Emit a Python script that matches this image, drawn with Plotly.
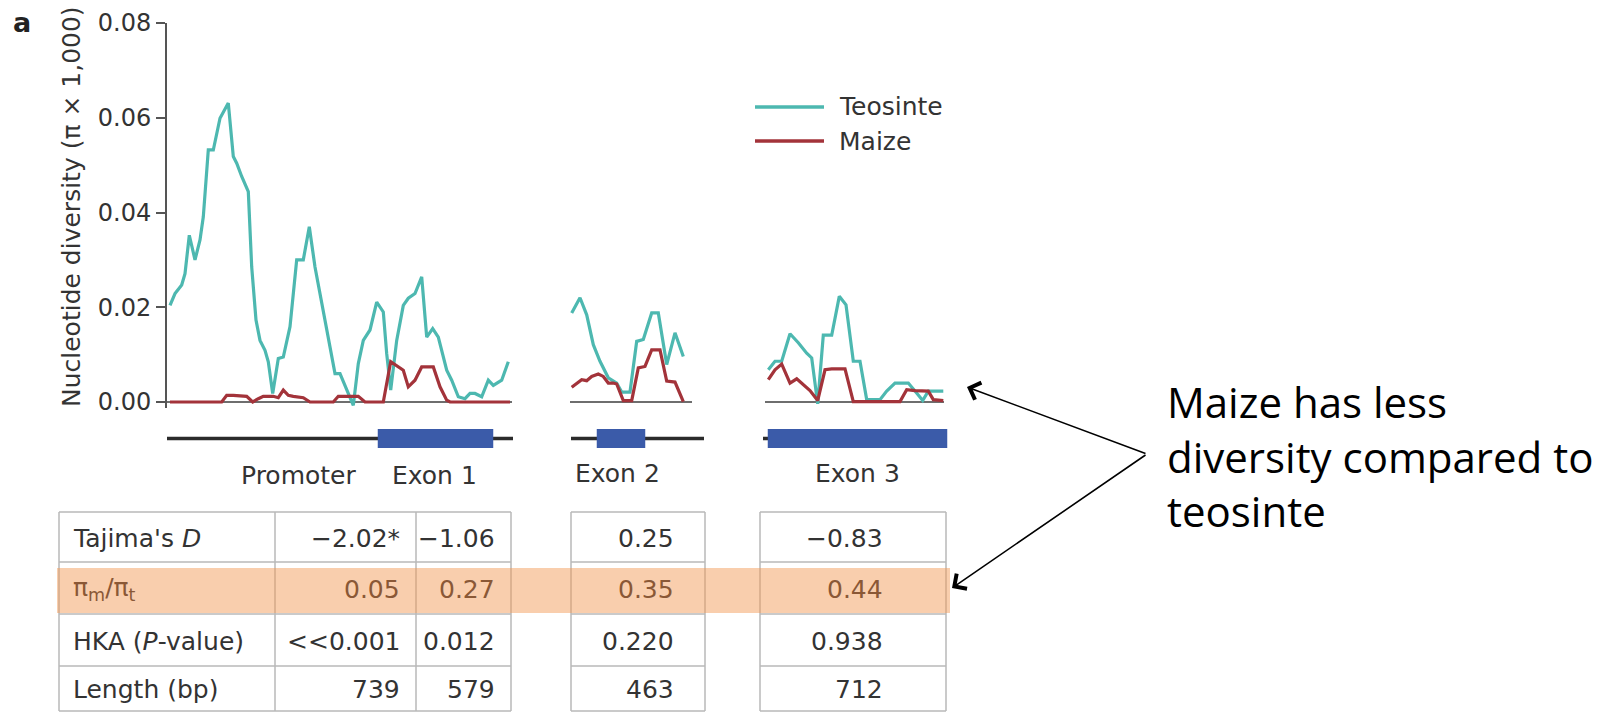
import plotly.graph_objects as go

# ---------------- data ----------------
teo_seg1_x = [3, 8, 14.7, 18, 22.3, 28, 33, 36.3, 41.3, 46.3, 53, 61.3, 66.3, 69.7, 74.7, 81.3, 84.7, 89, 93, 98,
              101.3, 105.7, 111.3, 116.3, 123, 129.7, 136.3, 142.3, 148, 153, 158, 163, 168, 173, 179.7, 186.3,
              191.3, 196.3, 203, 209.7, 216.3, 219.7, 223.7, 229.7, 236.3, 241.3, 248, 254.7, 259.7, 265.7,
              271.3, 279.7, 284.7, 291.3, 298, 303, 308, 314.7, 321.3, 326.3, 334.7, 341.3]
teo_seg1_y = [0.0204, 0.0229, 0.0247, 0.0271, 0.0352, 0.0300, 0.0342, 0.0391, 0.0532, 0.0532, 0.0599, 0.0631,
              0.0518, 0.0504, 0.0476, 0.0444, 0.0285, 0.0173, 0.0130, 0.0109, 0.0085, 0.0018, 0.0092, 0.0095,
              0.0159, 0.0300, 0.0300, 0.0370, 0.0285, 0.0229, 0.0173, 0.0116, 0.0060, 0.0060, 0.0025, -0.0007,
              0.0081, 0.0130, 0.0152, 0.0211, 0.0190, 0.0102, 0.0025, 0.0130, 0.0204, 0.0219, 0.0229, 0.0264,
              0.0137, 0.0155, 0.0137, 0.0067, 0.0046, 0.0011, 0.0007, 0.0018, 0.0018, 0.0011, 0.0046, 0.0035,
              0.0046, 0.0085]
maize_seg1_x = [3, 54.7, 59.7, 66.3, 79.7, 85.7, 91.3, 96.3, 106.3, 111.3, 116.3, 121.3, 126.3, 136.3, 143,
                166.3, 171.3, 191.3, 198, 216.3, 223.7, 231.3, 236.3, 241.3, 248, 254.7, 266.3, 273, 279.7, 283, 343]
maize_seg1_y = [0, 0, 0.0014, 0.0014, 0.0012, 0, 0.0007, 0.0012, 0.0012, 0.0009, 0.0025, 0.0014, 0.0012, 0.0009,
                0, 0, 0.0012, 0.0012, 0, 0, 0.0085, 0.0074, 0.0067, 0.0032, 0.0046, 0.0074, 0.0074, 0.0032,
                0.0004, 0, 0]

teo_seg2_x = [404.7, 413, 419.7, 426.3, 433, 441.3, 449.7, 454.7, 463, 469.7, 476.3, 484.7, 491.3, 499.7, 508, 516.3]
teo_seg2_y = [0.0188, 0.0220, 0.0184, 0.0121, 0.0086, 0.0051, 0.0040, 0.0021, 0.0021, 0.0128, 0.0132, 0.0188,
              0.0188, 0.0079, 0.0146, 0.0096]
maize_seg2_x = [404.7, 409.7, 414.7, 419.7, 424.7, 431.3, 436.3, 441.3, 446.3, 449.7, 456.3, 464.7, 471.3, 478,
                484.7, 493, 499.7, 508, 516.3]
maize_seg2_y = [0.0031, 0.0040, 0.0047, 0.0045, 0.0054, 0.0059, 0.0054, 0.0040, 0.0040, 0.0038, 0.0003, 0.0003,
                0.0072, 0.0075, 0.0110, 0.0110, 0.0044, 0.0042, 0.0001]

teo_seg3_x = [601.3, 608, 614.7, 623, 631.3, 639.7, 644.7, 650.7, 656.3, 664.7, 672.3, 679, 686.3, 693, 699.7,
              706.3, 713, 719.7, 728, 734.7, 741.3, 748, 755.7, 761.3, 769.7, 776.3]
teo_seg3_y = [0.0068, 0.0086, 0.0086, 0.0144, 0.0125, 0.0103, 0.0093, -0.0004, 0.0141, 0.0141, 0.0223, 0.0205,
              0.0086, 0.0086, 0.0005, 0.0005, 0.0005, 0.0023, 0.0040, 0.0040, 0.0040, 0.0023, 0.0003, 0.0023,
              0.0023, 0.0023]
maize_seg3_x = [601.3, 608, 614.7, 623, 629.7, 636.3, 643, 650.7, 658, 664.7, 678, 686.3, 733, 739.7, 748,
                761.3, 766.3, 776.3]
maize_seg3_y = [0.0047, 0.0068, 0.0080, 0.0040, 0.0049, 0.0037, 0.0024, 0.0003, 0.0068, 0.0070, 0.0070, 0.0001,
                0.0001, 0.0026, 0.0024, 0.0023, 0.0005, 0.0003]

# gene structure: (start, end) of each segment's backbone and exon box
segment_spans = [(0, 345), (403, 525), (598, 777)]
gene_lines = [(0, 346), (404, 537), (596, 780)]
exon_boxes = [(211, 326), (430, 478), (601, 780)]
region_labels = ["Promoter", "Exon 1", "Exon 2", "Exon 3"]

# table
row_labels = ["Tajima's <i>D</i>", "π<sub>m</sub>/π<sub>t</sub>", "HKA (<i>P</i>-value)", "Length (bp)"]
promoter_vals = ["−2.02*", "0.05", "&lt;&lt;0.001", "739"]
exon1_vals = ["−1.06", "0.27", "0.012", "579"]
exon2_vals = ["0.25", "0.35", "0.220", "463"]
exon3_vals = ["−0.83", "0.44", "0.938", "712"]

y_ticks = [0.0, 0.02, 0.04, 0.06, 0.08]

TEAL = "#4db8b0"
RED = "#a3333a"
BLUE = "#3b5ba9"
TXT = "#333333"
FONT = "DejaVu Sans"

# ---------------- layout helpers (pixels -> paper) ----------------
W, H = 1608, 713
L, R_EDGE = 167, 957
T = 23
PW = R_EDGE - L
PH = H - T
def px(x):
    return (x - L) / PW
def py(y):
    return (H - y) / PH

Y0_PX = 402.0
Y_TOP_PX = 23.0
px_per_unit = (Y0_PX - Y_TOP_PX) / 0.08
YMIN = -0.0012
y_bottom_px = Y0_PX - YMIN * px_per_unit

fig = go.Figure()

def seg_join(xs_list, ys_list):
    X, Y = [], []
    for xs, ys in zip(xs_list, ys_list):
        X += list(xs) + [None]
        Y += list(ys) + [None]
    return X, Y

tx, ty = seg_join([teo_seg1_x, teo_seg2_x, teo_seg3_x], [teo_seg1_y, teo_seg2_y, teo_seg3_y])
mx, my = seg_join([maize_seg1_x, maize_seg2_x, maize_seg3_x], [maize_seg1_y, maize_seg2_y, maize_seg3_y])

# zero baselines for each segment
bx, by = seg_join([[a, b] for a, b in segment_spans], [[0, 0]] * len(segment_spans))
fig.add_trace(go.Scatter(x=bx, y=by, mode="lines", line=dict(color="#6e6e6e", width=2),
                         hoverinfo="skip", showlegend=False))
fig.add_trace(go.Scatter(x=tx, y=ty, mode="lines", name="Teosinte",
                         line=dict(color=TEAL, width=3.2), showlegend=False))
fig.add_trace(go.Scatter(x=mx, y=my, mode="lines", name="Maize",
                         line=dict(color=RED, width=3.2), showlegend=False))

# gene structure on a second y axis
gx, gy = seg_join([[a, b] for a, b in gene_lines], [[0, 0]] * len(gene_lines))
fig.add_trace(go.Scatter(x=gx, y=gy, mode="lines", line=dict(color="#2b2b2b", width=3.5),
                         xaxis="x", yaxis="y2", hoverinfo="skip", showlegend=False))
for a, b in exon_boxes:
    fig.add_trace(go.Scatter(x=[a, b, b, a, a], y=[-1, -1, 1, 1, -1], mode="lines", fill="toself",
                             fillcolor=BLUE, line=dict(color=BLUE, width=0.5),
                             xaxis="x", yaxis="y2", hoverinfo="skip", showlegend=False))

shapes = []
annotations = []

def ann(x, y, text, size=25, xanchor="center", yanchor="middle", color=TXT, family=FONT, **kw):
    annotations.append(dict(x=px(x), y=py(y), xref="paper", yref="paper", text=text, showarrow=False,
                            xanchor=xanchor, yanchor=yanchor, font=dict(family=family, size=size, color=color),
                            **kw))

# panel letter and y title
ann(22, 22, "<b>a</b>", size=27, color="#222222")
ann(71, 207, "Nucleotide diversity (π × 1,000)", size=25, textangle=-90)

# legend (manual, long line samples as in the original)
for yy, col, name in [(107, TEAL, "Teosinte"), (141, RED, "Maize")]:
    shapes.append(dict(type="line", xref="paper", yref="paper", x0=px(755), x1=px(824), y0=py(yy), y1=py(yy),
                       line=dict(color=col, width=3.5)))
    ann(837, yy, name, xanchor="left")

# region labels
for (lx, ly), lab in zip([(298, 475), (434, 475), (617, 474), (857, 474)], region_labels):
    ann(lx, ly, lab)

# table
row_edges = [512, 562, 614, 666, 711]
grid = "#b8b8b8"
def hline(x0, x1, y):
    shapes.append(dict(type="line", xref="paper", yref="paper", x0=px(x0), x1=px(x1), y0=py(y), y1=py(y),
                       line=dict(color=grid, width=1.5)))
def vline(x, y0, y1):
    shapes.append(dict(type="line", xref="paper", yref="paper", x0=px(x), x1=px(x), y0=py(y0), y1=py(y1),
                       line=dict(color=grid, width=1.5)))

tables = [(59, 511, [275, 416]), (571, 705, []), (760, 946, [])]
for x0, x1, seps in tables:
    for y in row_edges:
        hline(x0, x1, y)
    for x in [x0, x1] + seps:
        vline(x, row_edges[0], row_edges[-1])

HL = "#8a5836"
for i in range(4):
    yc = (row_edges[i] + row_edges[i + 1]) / 2 + 1
    col = HL if i == 1 else TXT
    ann(71, yc, row_labels[i], xanchor="left", color=col)
    ann(402, yc, promoter_vals[i], xanchor="right", color=col)
    ann(497, yc, exon1_vals[i], xanchor="right", color=col)
    ann(676, yc, exon2_vals[i], xanchor="right", color=col)
    ann(885, yc, exon3_vals[i], xanchor="right", color=col)

# highlight band over the pi_m/pi_t row
shapes.append(dict(type="rect", xref="paper", yref="paper", x0=px(57), x1=px(950), y0=py(613), y1=py(568),
                   fillcolor="rgba(243,150,80,0.47)", line=dict(width=0), layer="above"))

# callout text and arrows
annotations.append(dict(x=px(1165), y=py(456), xref="paper", yref="paper",
                        text="Maize has less<br>diversity compared to<br>teosinte", showarrow=False,
                        xanchor="left", yanchor="middle", align="left",
                        font=dict(family="Open Sans", size=42, color="#000000")))
for tipx, tipy in [(967, 387), (952, 588)]:
    annotations.append(dict(x=px(tipx), y=py(tipy), xref="paper", yref="paper", text="", showarrow=True,
                            ax=1147 - tipx, ay=454 - tipy, axref="pixel", ayref="pixel",
                            arrowhead=4, arrowsize=2.2, arrowwidth=1.6, arrowcolor="#000000", standoff=0))

fig.update_layout(
    width=W, height=H,
    margin=dict(l=L, r=W - R_EDGE, t=T, b=0, pad=0, autoexpand=False),
    paper_bgcolor="white", plot_bgcolor="white",
    showlegend=False,
    xaxis=dict(range=[0, PW], visible=False, domain=[0, 1], automargin=False),
    yaxis=dict(range=[YMIN, 0.08], domain=[py(y_bottom_px), 1], anchor="x", automargin=False,
               tickvals=y_ticks, ticktext=[f"{v:.2f}" for v in y_ticks],
               ticks="outside", ticklen=9, tickwidth=2, tickcolor="#555555",
               showline=True, linecolor="#555555", linewidth=2, showgrid=False, zeroline=False,
               tickfont=dict(family=FONT, size=24, color=TXT)),
    yaxis2=dict(range=[-1, 1], domain=[py(448), py(429)], anchor="x", visible=False, automargin=False),
    shapes=shapes,
    annotations=annotations,
)

fig.write_html("out.html", config={"displayModeBar": False},
               post_script="document.body.style.margin='0px';document.body.style.overflow='hidden';")
